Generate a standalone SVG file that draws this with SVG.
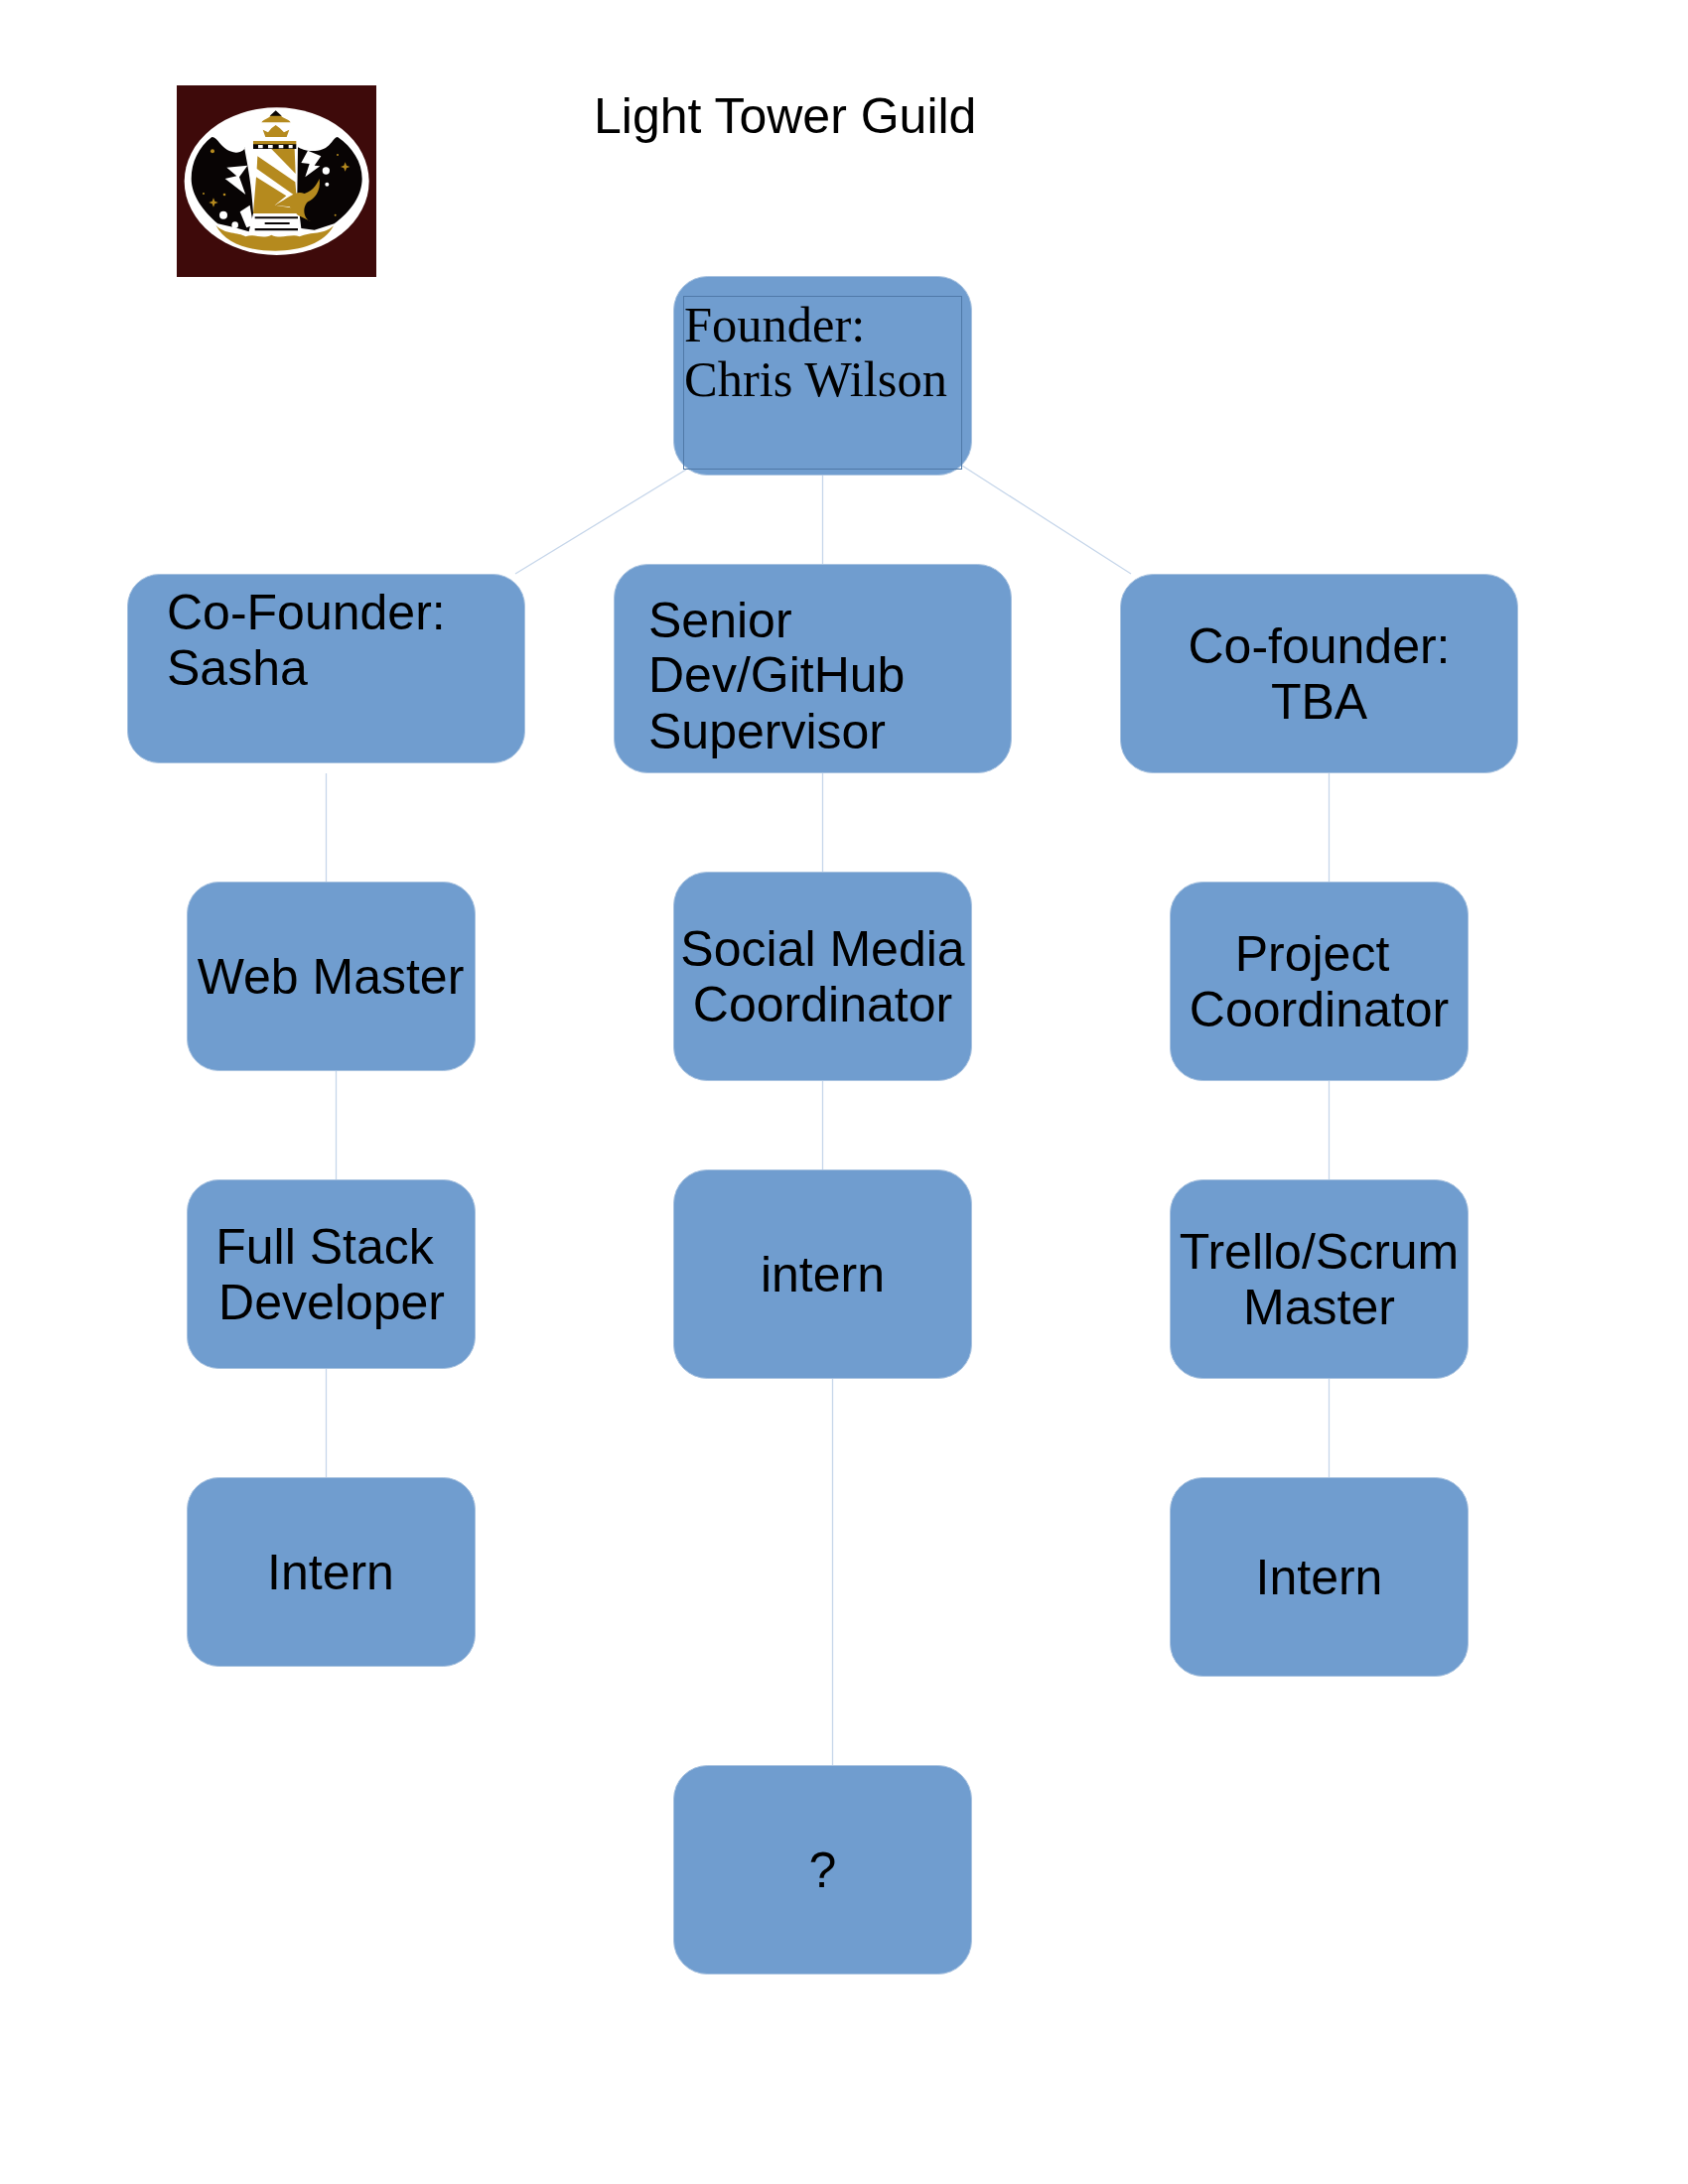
<svg xmlns="http://www.w3.org/2000/svg" width="1700" height="2200" viewBox="0 0 1700 2200">
<style>
.n{fill:#709dcf;stroke:#a9c3e0;stroke-width:1}
.t{font-family:"Liberation Sans",Arial,sans-serif;font-size:50px;fill:#000}
.s{font-family:"Liberation Serif","Times New Roman",serif;font-size:50.500px;fill:#000}
.m{text-anchor:middle}
.c line{stroke:#c6d6ea;stroke-width:1.3;fill:none}
.g{fill:#b58a1e}.b{fill:#080404}.w{fill:#fff}
</style>
<rect width="1700" height="2200" fill="#fff"/>
<g id="logo" transform="translate(160 70) scale(.33333)">
<rect x="54" y="48" width="603" height="579" fill="#3e0a0a"/>
<ellipse cx="356" cy="338" rx="279" ry="223" class="w"/>
<path class="b" d="M160 204C180 205 185 240 225 250C245 255 265 240 258 235C270 300 280 350 285 435L272 490L230 478L178 466C135 430 98 380 98 330C98 280 120 235 160 204Z"/>
<path class="b" d="M540 204C525 205 520 240 480 245C450 250 430 240 420 235L418 380L430 480L470 485L530 466C580 430 614 380 614 330C614 280 585 235 540 204Z"/>
<path class="g" d="M172 470C200 500 240 490 262 505C290 495 310 515 340 500C370 515 400 495 425 505C460 490 500 500 528 472C500 525 430 548 352 548C270 548 200 525 172 470Z"/>
<path class="w" d="M205 296L268 290L243 325L262 378L200 330L235 322Z"/>
<path class="w" d="M450 245L490 262L470 290L487 292L442 325L455 285L430 282Z"/>
<path class="w" d="M295 240H410L420 440H285Z"/>
<path class="g" d="M340 240H410L413 315Z"/>
<path class="g" d="M298 262L412 340L416 385L296 300Z"/>
<path class="g" d="M294 325L385 382L350 410L415 420V435H285Z"/>
<path class="b" d="M285 225H415V240H285Z"/>
<path class="w" d="M300 228h14v10h-14zM330 228h14v10h-14zM362 228h14v10h-14zM392 228h12v10h-12z"/>
<path class="g" d="M285 216H415V226H285Z"/>
<path class="g" d="M314 182L330 190L340 178L353 168L366 178L378 190L394 182L386 204H322Z"/>
<path class="g" d="M310 160C318 148 335 148 338 138H368C372 148 392 148 398 160Z"/>
<path class="b" d="M335 140L353 124L371 140Z"/>
<path class="g" d="M350 410C400 385 410 365 440 375C470 365 480 340 485 330C490 370 470 390 450 400C430 420 440 455 460 460L420 440L395 415Z"/>
<path class="w" d="M290 450H420V490H290Z"/>
<path class="b" d="M290 445H420V451H290ZM320 462H395V468H320ZM290 480H420V487H290Z"/>
<path class="w" d="M245 430L275 410L285 470L265 478Z"/>
<circle cx="195" cy="440" r="12" class="w"/><circle cx="230" cy="470" r="10" class="w"/><circle cx="505" cy="306" r="11" class="w"/><circle cx="508" cy="347" r="6" class="w"/>
<path class="g" d="M165 388L169 398L179 402L169 406L165 416L161 406L151 402L161 398ZM563 280L567 290L577 294L567 298L563 308L559 298L549 294L559 290Z"/>
<circle cx="162" cy="247" r="6" class="g"/><circle cx="198" cy="378" r="4" class="g"/><circle cx="540" cy="258" r="3" class="g"/><circle cx="533" cy="440" r="3" class="g"/><circle cx="135" cy="375" r="3" class="g"/>
</g>
<text class="t" x="598" y="134" id="title">Light Tower Guild</text>
<g id="connectors" class="c">
<line x1="691" y1="473" x2="519" y2="578"/>
<line x1="828.500" y1="479" x2="828.500" y2="568"/>
<line x1="969" y1="469" x2="1139" y2="578"/>
<line x1="328.500" y1="779" x2="328.500" y2="888"/>
<line x1="338.500" y1="1078" x2="338.500" y2="1188"/>
<line x1="328.500" y1="1378" x2="328.500" y2="1495"/>
<line x1="828.500" y1="778" x2="828.500" y2="878"/>
<line x1="828.500" y1="1088" x2="828.500" y2="1178"/>
<line x1="838.500" y1="1388" x2="838.500" y2="1778"/>
<line x1="1338.500" y1="778" x2="1338.500" y2="888"/>
<line x1="1338.500" y1="1088" x2="1338.500" y2="1188"/>
<line x1="1338.500" y1="1388" x2="1338.500" y2="1488"/>
</g>
<g id="founder"><rect class="n" x="678.500" y="278.500" width="300" height="200" rx="34"/><rect x="688.500" y="298.500" width="280" height="174" fill="none" stroke="#4f79a8" stroke-width="1"/>
<text class="s" x="689" y="344">Founder:</text><text class="s" x="689" y="399">Chris Wilson</text></g>
<g id="cofounder-sasha"><rect class="n" x="128.500" y="578.500" width="400" height="190" rx="32"/><text class="t" x="168" y="634">Co-Founder:</text><text class="t" x="168" y="690">Sasha</text></g>
<g id="senior-dev"><rect class="n" x="618.500" y="568.500" width="400" height="210" rx="34"/><text class="t" x="653" y="642">Senior</text><text class="t" x="653" y="697">Dev/GitHub</text><text class="t" x="653" y="754">Supervisor</text></g>
<g id="cofounder-tba"><rect class="n" x="1128.500" y="578.500" width="400" height="200" rx="33"/><text class="t m" x="1328.500" y="668">Co-founder:</text><text class="t m" x="1328.500" y="724">TBA</text></g>
<g id="web-master"><rect class="n" x="188.500" y="888.500" width="290" height="190" rx="32"/><text class="t m" x="333" y="1001">Web Master</text></g>
<g id="social-media"><rect class="n" x="678.500" y="878.500" width="300" height="210" rx="34"/><text class="t m" x="828.500" y="973">Social Media</text><text class="t m" x="828.500" y="1029">Coordinator</text></g>
<g id="project-coordinator"><rect class="n" x="1178.500" y="888.500" width="300" height="200" rx="33"/><text class="t m" x="1321.500" y="978">Project</text><text class="t m" x="1328.500" y="1034">Coordinator</text></g>
<g id="full-stack"><rect class="n" x="188.500" y="1188.500" width="290" height="190" rx="32"/><text class="t m" x="327" y="1273">Full Stack</text><text class="t m" x="334" y="1329">Developer</text></g>
<g id="intern-mid"><rect class="n" x="678.500" y="1178.500" width="300" height="210" rx="34"/><text class="t m" x="828.500" y="1301">intern</text></g>
<g id="trello"><rect class="n" x="1178.500" y="1188.500" width="300" height="200" rx="33"/><text class="t m" x="1328.500" y="1278">Trello/Scrum</text><text class="t m" x="1328.500" y="1334">Master</text></g>
<g id="intern-left"><rect class="n" x="188.500" y="1488.500" width="290" height="190" rx="32"/><text class="t m" x="333" y="1601">Intern</text></g>
<g id="intern-right"><rect class="n" x="1178.500" y="1488.500" width="300" height="200" rx="33"/><text class="t m" x="1328.500" y="1606">Intern</text></g>
<g id="unknown"><rect class="n" x="678.500" y="1778.500" width="300" height="210" rx="34"/><text class="t m" x="828.500" y="1901">?</text></g>
</svg>
